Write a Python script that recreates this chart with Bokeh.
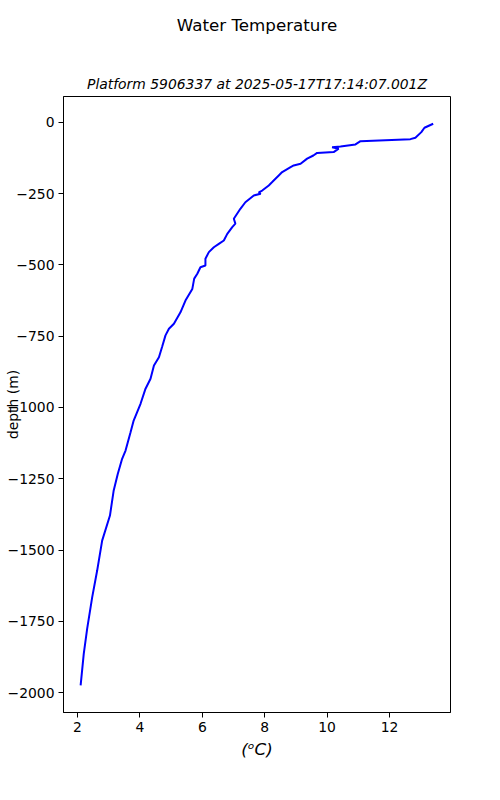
from bokeh.plotting import figure
from bokeh.models import ColumnDataSource, FixedTicker, Range1d, Title
from bokeh.embed import file_html
from bokeh.resources import INLINE

# Profile data (temperature degC, depth m as negative values)
temperature = [13.40, 13.12, 13.02, 12.83, 12.67, 11.07, 10.91, 10.43, 10.16, 10.37,
               10.21, 9.68, 9.56, 9.36, 9.15, 8.93, 8.83, 8.56, 8.45, 8.24,
               8.13, 7.92, 7.81, 7.87, 7.65, 7.38, 7.22, 7.01, 7.06, 6.96,
               6.80, 6.69, 6.53, 6.37, 6.21, 6.10, 6.10, 5.94, 5.84, 5.74,
               5.68, 5.46, 5.30, 5.09, 4.93, 4.82, 4.71, 4.61, 4.45, 4.34,
               4.18, 4.02, 3.80, 3.70, 3.54, 3.43, 3.29, 3.16, 3.04, 2.79,
               2.63, 2.47, 2.31, 2.20, 2.10]
depth = [-4.6, -18.6, -34, -53.7, -58.6, -65.6, -77, -84, -86.7, -92,
         -104, -107, -116, -127, -145, -151, -157, -174, -186, -209,
         -221, -239, -245, -250, -256, -280, -303, -338, -355, -367,
         -391, -414, -426, -438, -455, -478, -502, -508, -531, -548,
         -584, -625, -666, -706, -724, -747, -788, -824, -853, -899,
         -934, -987, -1046, -1087, -1151, -1180, -1233, -1291, -1379, -1467,
         -1572, -1666, -1776, -1864, -1975]

x_ticks = [2, 4, 6, 8, 10, 12]
x_tick_labels = ["2", "4", "6", "8", "10", "12"]
y_ticks = [0, -250, -500, -750, -1000, -1250, -1500, -1750, -2000]
y_tick_labels = ["0", "\u2212250", "\u2212500", "\u2212750", "\u22121000",
                 "\u22121250", "\u22121500", "\u22121750", "\u22122000"]

main_title = "Water Temperature"
sub_title = "Platform 5906337 at 2025-05-17T17:14:07.001Z"
x_label = "(\u1d52C)"
y_label = "depth (m)"

FONT = "DejaVu Sans"

p = figure(width=500, height=800, output_backend="svg", toolbar_location=None,
           x_range=Range1d(1.551, 13.955), y_range=Range1d(-2070, 91),
           min_border_left=63, min_border_right=50, min_border_top=96,
           min_border_bottom=88, title=None)

src = ColumnDataSource(data=dict(t=temperature, d=depth))
p.line("t", "d", source=src, line_color="blue", line_width=2)

p.xgrid.visible = False
p.ygrid.visible = False
p.outline_line_color = "black"
p.outline_line_width = 1
p.background_fill_color = "white"
p.border_fill_color = "white"

for ax in (p.xaxis[0], p.yaxis[0]):
    ax.axis_line_color = "black"
    ax.major_tick_line_color = "black"
    ax.minor_tick_line_color = None
    ax.major_tick_out = 5
    ax.major_tick_in = 0
    ax.major_label_text_font = FONT
    ax.major_label_text_font_size = "13.9px"
    ax.major_label_text_color = "black"
    ax.major_label_standoff = 4
    ax.axis_label_text_font = FONT
    ax.axis_label_text_color = "black"
    ax.axis_label_text_font_style = "normal"

p.xaxis[0].ticker = FixedTicker(ticks=x_ticks)
p.xaxis[0].major_label_overrides = {t: l for t, l in zip(x_ticks, x_tick_labels)}
p.xaxis[0].axis_label = x_label
p.xaxis[0].axis_label_text_font_size = "16.7px"
p.xaxis[0].axis_label_text_font_style = "italic"
p.xaxis[0].axis_label_standoff = 4

p.yaxis[0].ticker = FixedTicker(ticks=y_ticks)
p.yaxis[0].major_label_overrides = {t: l for t, l in zip(y_ticks, y_tick_labels)}
p.yaxis[0].axis_label = y_label
p.yaxis[0].axis_label_text_font_size = "13.9px"
p.yaxis[0].axis_label_standoff = -16

sub = Title(text=sub_title, align="center", text_font=FONT, text_font_size="13.9px",
            text_font_style="italic", text_color="black", standoff=10)
p.add_layout(sub, "above")
spacer = Title(text=" ", align="center", text_font=FONT, text_font_size="13.9px",
               text_color="black", standoff=3)
p.add_layout(spacer, "above")
main = Title(text=main_title, align="center", text_font=FONT, text_font_size="16.7px",
             text_font_style="normal", text_color="black", standoff=25, offset=-6)
p.add_layout(main, "above")

open("out.html", "w").write(file_html(p, INLINE))
